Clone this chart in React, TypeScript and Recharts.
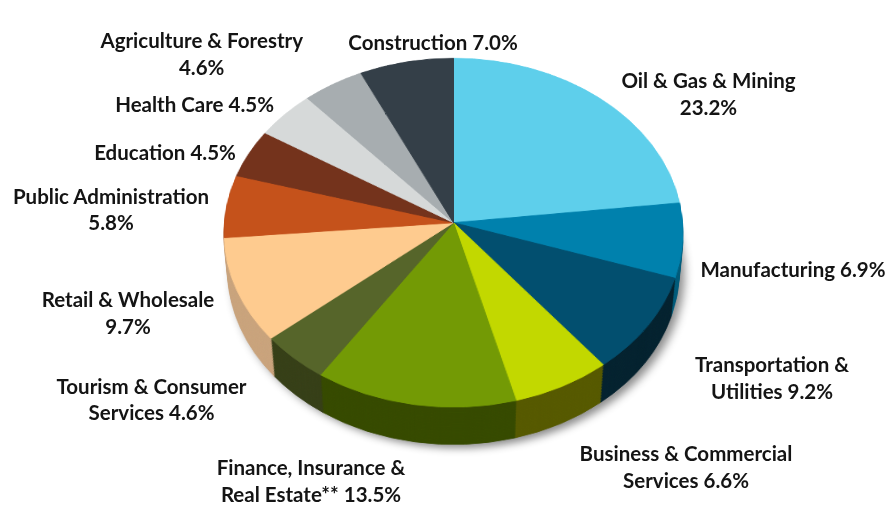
import React from 'react';
import { PieChart, Pie, Cell } from 'recharts';

// slices, clockwise from 12 o'clock
const categories = [
  'Oil & Gas & Mining',
  'Manufacturing',
  'Transportation & Utilities',
  'Business & Commercial Services',
  'Finance, Insurance & Real Estate**',
  'Tourism & Consumer Services',
  'Retail & Wholesale',
  'Public Administration',
  'Education',
  'Health Care',
  'Agriculture & Forestry',
  'Construction',
];
const shares = [23.2, 6.9, 9.2, 6.6, 13.5, 4.6, 9.7, 5.8, 4.5, 4.5, 4.6, 7.0];

const topColors = [
  '#5ecfeb', '#0081ad', '#024f6f', '#c2d800', '#739a05', '#56652a',
  '#fecb8f', '#c5521b', '#74331c', '#d6d9d9', '#a7adb0', '#343f48',
];
const sideColors = [
  '#3c9db5', '#005b7a', '#04222f', '#565900', '#364a00', '#363f17',
  '#c9a37c', '#8e3a10', '#4e2212', '#a0a3a3', '#777c80', '#22292f',
];

const data = categories.map((name, i) => ({ name, value: shares[i] }));

// page + 3d pie geometry
const W = 894;
const CX = 453.5;
const CY = 222.7;
const R = 229;
const TILT = 40.6;
const PERSP = 2614;
const DEPTH = 60;
const LAYERS = 24;
const PAD_TOP = 40;
const LAYER_H = 560;

// label placement: centre x, first line centre y, words on first line
const labelLayout: [number, number, number][] = [
  [708.5, 81, 5],
  [793, 270, 99],
  [772, 365, 2],
  [686, 454, 3],
  [311, 468, 3],
  [151.5, 386.7, 3],
  [128, 300, 3],
  [111, 196.7, 2],
  [165, 152.7, 99],
  [194.6, 105, 99],
  [201.7, 41, 3],
  [433, 43, 99],
];

const renderLabel = (props: any) => {
  const i = props.index;
  const [x, y, n] = labelLayout[i];
  const words = `${categories[i]} ${shares[i].toFixed(1)}%`.split(' ');
  const lines = [words.slice(0, n).join(' '), words.slice(n).join(' ')].filter(Boolean);
  return (
    <text
      key={`lbl-${i}`}
      x={x}
      y={y + 7}
      textAnchor="middle"
      fill="#141414"
      fontFamily="Lato, 'Liberation Sans', sans-serif"
      fontWeight={700}
      fontSize={20.5}
    >
      {lines.map((t, k) => (
        <tspan key={k} x={x} dy={k === 0 ? 0 : 26.5}>
          {t}
        </tspan>
      ))}
    </text>
  );
};

const PieLayer = ({ z, colors, shadow }: { z: number; colors: string[]; shadow?: boolean }) => (
  <div
    style={{
      position: 'absolute',
      left: 0,
      top: -PAD_TOP,
      width: W,
      height: LAYER_H,
      transformOrigin: `${CX}px ${CY + PAD_TOP}px`,
      transform: `perspective(${PERSP}px) rotateX(${TILT}deg) translateZ(${-z}px)`,
      filter: shadow ? 'drop-shadow(5px 4px 5px rgba(0,0,0,0.45))' : undefined,
    }}
  >
    <PieChart width={W} height={LAYER_H} margin={{ top: 0, right: 0, bottom: 0, left: 0 }}>
      <Pie
        data={data}
        dataKey="value"
        cx={CX}
        cy={CY + PAD_TOP}
        outerRadius={R}
        startAngle={90}
        endAngle={-270}
        stroke="none"
        isAnimationActive={false}
      >
        {data.map((d, i) => (
          <Cell key={d.name} fill={colors[i]} stroke={colors[i]} strokeWidth={1} />
        ))}
      </Pie>
    </PieChart>
  </div>
);

export default function App() {
  const depths = [];
  for (let k = LAYERS; k >= 1; k--) depths.push((DEPTH * k) / LAYERS);

  return (
    <div
      style={{
        position: 'absolute',
        left: 0,
        top: 0,
        width: W,
        height: 512,
        background: '#fff',
        overflow: 'hidden',
      }}
    >
      {depths.map((z, idx) => (
        <PieLayer key={z} z={z} colors={sideColors} shadow={idx === 0} />
      ))}
      <PieLayer z={0} colors={topColors} />

      <div style={{ position: 'absolute', left: 0, top: 0, zIndex: 10 }}>
        <PieChart width={W} height={512} margin={{ top: 0, right: 0, bottom: 0, left: 0 }}>
          <Pie
            data={data}
            dataKey="value"
            cx={CX}
            cy={CY}
            outerRadius={R}
            startAngle={90}
            endAngle={-270}
            fill="none"
            stroke="none"
            label={renderLabel}
            labelLine={false}
            isAnimationActive={false}
          />
        </PieChart>
      </div>
    </div>
  );
}
